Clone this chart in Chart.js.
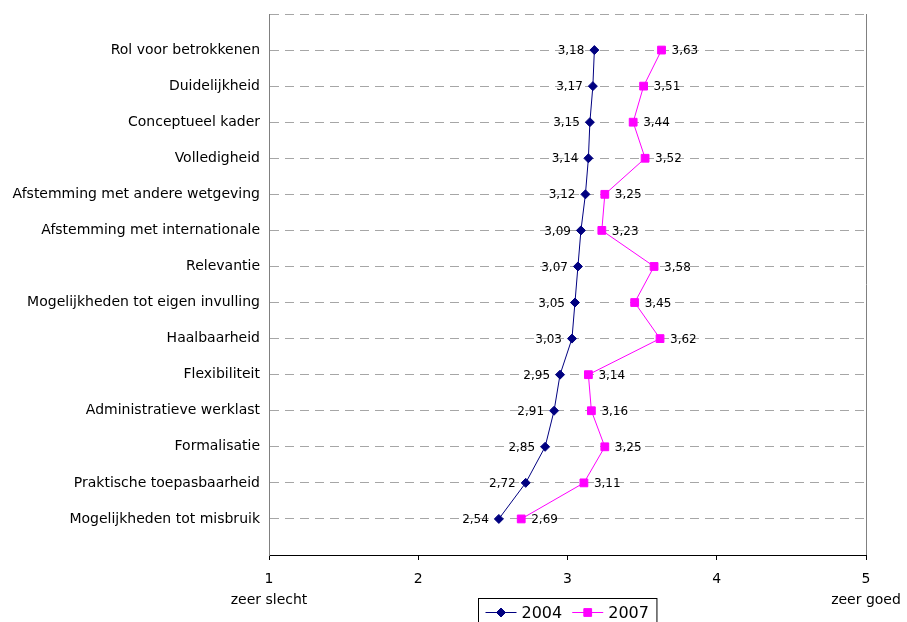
<!DOCTYPE html>
<html>
<head>
<meta charset="utf-8">
<script src="https://cdn.jsdelivr.net/npm/chart.js@4/dist/chart.umd.min.js"></script>
<style>
  html, body { margin: 0; padding: 0; background: #fff; }
  #wrap { width: 907px; height: 622px; }
</style>
</head>
<body>
<div id="wrap"><canvas id="chart"></canvas></div>
<script>
// Categories, top to bottom
const categories = [
  'Rol voor betrokkenen',
  'Duidelijkheid',
  'Conceptueel kader',
  'Volledigheid',
  'Afstemming met andere wetgeving',
  'Afstemming met internationale',
  'Relevantie',
  'Mogelijkheden tot eigen invulling',
  'Haalbaarheid',
  'Flexibiliteit',
  'Administratieve werklast',
  'Formalisatie',
  'Praktische toepasbaarheid',
  'Mogelijkheden tot misbruik'
];
const values2004 = [3.18, 3.17, 3.15, 3.14, 3.12, 3.09, 3.07, 3.05, 3.03, 2.95, 2.91, 2.85, 2.72, 2.54];
const values2007 = [3.63, 3.51, 3.44, 3.52, 3.25, 3.23, 3.58, 3.45, 3.62, 3.14, 3.16, 3.25, 3.11, 2.69];
const xTickLabels = { 1: ['1', 'zeer slecht'], 2: '2', 3: '3', 4: '4', 5: ['5', 'zeer goed'] };

const FONT = '"DejaVu Sans", Verdana, sans-serif';

const toPoints = vals => vals.map((v, i) => ({ x: v, y: i + 1 }));
const fmt = v => v.toFixed(2).replace('.', ',');

// value labels: 2004 left of the point, 2007 right of it
const valueLabels = {
  id: 'valueLabels',
  afterDatasetsDraw(chart) {
    const ctx = chart.ctx;
    ctx.save();
    ctx.font = '12px ' + FONT;
    ctx.fillStyle = '#000';
    ctx.textBaseline = 'middle';
    chart.data.datasets.forEach((ds, i) => {
      const meta = chart.getDatasetMeta(i);
      const left = i === 0;
      ctx.textAlign = left ? 'right' : 'left';
      meta.data.forEach((pt, j) => {
        ctx.fillText(fmt(ds.data[j].x), pt.x + (left ? -10 : 10), pt.y + 1);
      });
    });
    ctx.restore();
  }
};

// right frame line and the boxed legend under the axis
const frameAndLegend = {
  id: 'frameAndLegend',
  afterDraw(chart) {
    const ctx = chart.ctx;
    const a = chart.chartArea;
    ctx.save();
    ctx.strokeStyle = '#808080';
    ctx.lineWidth = 1;
    ctx.beginPath();
    ctx.moveTo(Math.round(a.right) + 0.5, a.top);
    ctx.lineTo(Math.round(a.right) + 0.5, a.bottom);
    ctx.stroke();

    ctx.font = '16px ' + FONT;
    const items = chart.data.datasets.map(ds => ({ ds, w: ctx.measureText(ds.label).width }));
    const lineLen = 31, gapText = 5, gapItem = 10, padL = 7, padR = 8;
    let total = padL + padR;
    items.forEach((it, k) => { total += lineLen + gapText + it.w + (k ? gapItem : 0); });
    const boxL = Math.round((a.left + a.right) / 2 - total / 2) + 0.5;
    const boxT = Math.round(a.bottom + 43) + 0.5;
    ctx.strokeStyle = '#000';
    ctx.strokeRect(boxL, boxT, total, 40);
    const cy = boxT + 14;
    let x = boxL + padL;
    items.forEach((it, k) => {
      if (k) x += gapItem;
      const ds = it.ds;
      ctx.strokeStyle = ds.borderColor;
      ctx.lineWidth = 1;
      ctx.beginPath();
      ctx.moveTo(x, cy);
      ctx.lineTo(x + lineLen, cy);
      ctx.stroke();
      ctx.fillStyle = ds.pointBackgroundColor;
      Chart.helpers.drawPoint(ctx, {
        pointStyle: ds.pointStyle, radius: ds.pointRadius, borderWidth: 1
      }, x + lineLen / 2, cy);
      x += lineLen + gapText;
      ctx.fillStyle = '#000';
      ctx.textAlign = 'left';
      ctx.textBaseline = 'middle';
      ctx.fillText(ds.label, x, cy + 1);
      x += it.w;
    });
    ctx.restore();
  }
};

new Chart(document.getElementById('chart'), {
  type: 'scatter',
  data: {
    datasets: [
      {
        label: '2004',
        data: toPoints(values2004),
        showLine: true,
        borderColor: '#000080',
        backgroundColor: '#000080',
        pointBackgroundColor: '#000080',
        pointBorderColor: '#000080',
        borderWidth: 1,
        pointStyle: 'rectRot',
        pointRadius: 4.5,
        pointHoverRadius: 4.5
      },
      {
        label: '2007',
        data: toPoints(values2007),
        showLine: true,
        borderColor: '#ff00ff',
        backgroundColor: '#ff00ff',
        pointBackgroundColor: '#ff00ff',
        pointBorderColor: '#ff00ff',
        borderWidth: 1,
        pointStyle: 'rect',
        pointRadius: 5.5,
        pointHoverRadius: 5.5
      }
    ]
  },
  options: {
    responsive: true,
    maintainAspectRatio: false,
    animation: false,
    layout: { padding: { top: 14, right: 41, left: 0, bottom: 0 } },
    plugins: {
      legend: { display: false },
      tooltip: { enabled: false }
    },
    scales: {
      x: {
        type: 'linear',
        min: 1,
        max: 5,
        afterFit: s => { s.height = 67; s.paddingLeft = 0; s.paddingRight = 0; },
        border: { color: '#000', width: 1 },
        grid: { drawOnChartArea: false, drawTicks: true, tickLength: 5, color: '#000' },
        ticks: {
          stepSize: 1,
          color: '#000',
          padding: 9,
          maxRotation: 0,
          font: { family: FONT, size: 14, lineHeight: 1.5 },
          callback: v => xTickLabels[v] || ''
        }
      },
      y: {
        type: 'linear',
        reverse: true,
        min: 0,
        max: 15,
        afterFit: s => { s.width = 269; s.paddingTop = 0; s.paddingBottom = 0; },
        border: { color: '#808080', width: 1, dash: [9, 6] },
        grid: { color: '#a6a6a6', drawTicks: false },
        ticks: {
          stepSize: 1,
          color: '#000',
          padding: 9,
          autoSkip: false,
          font: { family: FONT, size: 14 },
          callback: v => categories[v - 1] || ''
        }
      }
    }
  },
  plugins: [valueLabels, frameAndLegend]
});
</script>
</body>
</html>
